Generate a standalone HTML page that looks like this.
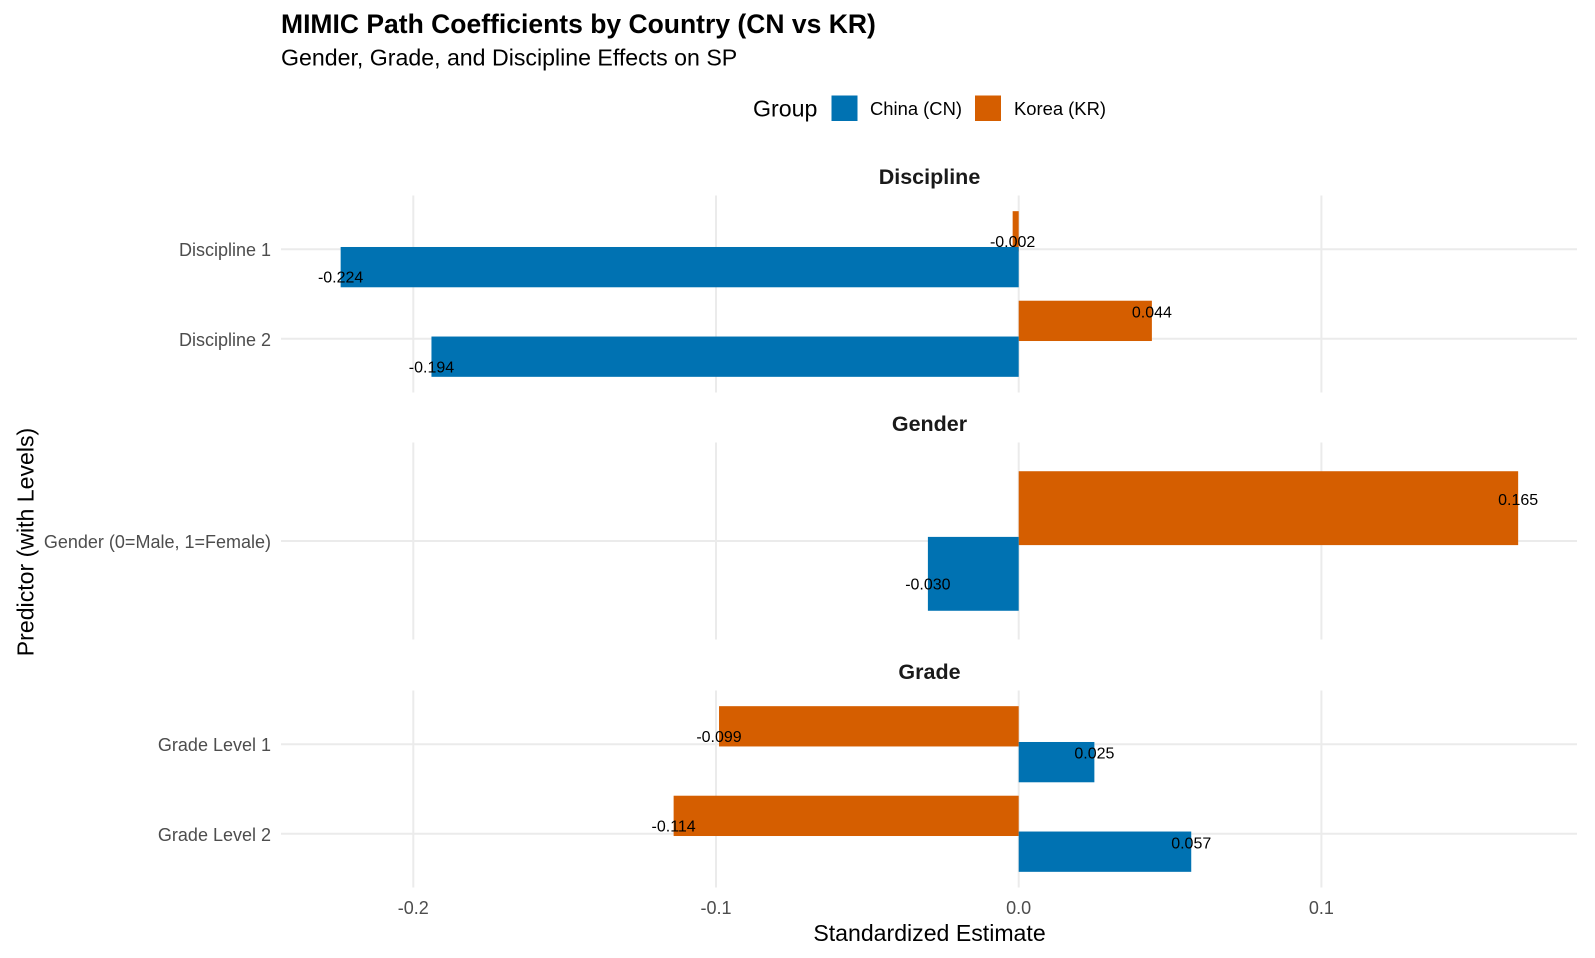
<!DOCTYPE html>
<html lang="en">
<head>
<meta charset="utf-8">
<title>MIMIC Path Coefficients by Country</title>
<style>
html,body{margin:0;padding:0;background:#fff;}
svg{display:block;font-family:"Liberation Sans",Arial,sans-serif;}
</style>
</head>
<body>
<svg id="chart" width="1595" height="958" viewBox="0 0 1595 958" xmlns="http://www.w3.org/2000/svg">
  <text x="281" y="33" font-size="26.5" font-weight="700" fill="#000">MIMIC Path Coefficients by Country (CN vs KR)</text>
  <text x="281" y="65.5" font-size="23.15" fill="#000">Gender, Grade, and Discipline Effects on SP</text>
  <text x="753" y="116.5" font-size="23.2" fill="#000">Group</text>
  <rect x="831.5" y="95.5" width="26" height="25.5" fill="#0072B2"/>
  <text x="870" y="114.8" font-size="18.4" fill="#000">China (CN)</text>
  <rect x="975" y="95.5" width="26" height="25.5" fill="#D55E00"/>
  <text x="1014" y="114.8" font-size="18.4" fill="#000">Korea (KR)</text>
  <text x="0" y="0" transform="translate(33.5 542) rotate(-90)" text-anchor="middle" font-size="23.1" fill="#000">Predictor (with Levels)</text>
  <text x="929.5" y="941" text-anchor="middle" font-size="23.1" fill="#000">Standardized Estimate</text>
  <g id="plot"></g>
</svg>
<script>
const facetNames = ["Discipline", "Gender", "Grade"];
const disciplineLevels = ["Discipline 1", "Discipline 2"];
const genderLevels = ["Gender (0=Male, 1=Female)"];
const gradeLevels = ["Grade Level 1", "Grade Level 2"];
const disciplineChina = [-0.224, -0.194];
const disciplineKorea = [-0.002, 0.044];
const genderChina = [-0.030];
const genderKorea = [0.165];
const gradeChina = [0.025, 0.057];
const gradeKorea = [-0.099, -0.114];
const xTickValues = [-0.2, -0.1, 0.0, 0.1];
const xTickLabels = ["-0.2", "-0.1", "0.0", "0.1"];

const NS = "http://www.w3.org/2000/svg";
const plot = document.getElementById("plot");
const panelLeft = 281, panelRight = 1577, panelHeight = 197;
const panelTops = [195.5, 442.5, 690.5];
const colorChina = "#0072B2", colorKorea = "#D55E00";
const facetLevels = [disciplineLevels, genderLevels, gradeLevels];
const facetChina = [disciplineChina, genderChina, gradeChina];
const facetKorea = [disciplineKorea, genderKorea, gradeKorea];

function xScale(v) { return 1018.7 + v * 3027; }
function bandUnit(n) { return panelHeight / (n - 1 + 1.2); }
function yScale(top, n, pos) { return top + (0.6 + pos) * bandUnit(n); }

function make(tag, attrs, parent) {
  const el = document.createElementNS(NS, tag);
  for (const k in attrs) el.setAttribute(k, attrs[k]);
  parent.appendChild(el);
  return el;
}

function drawBar(g, top, n, pos, offset, value, color, series, level) {
  const unit = bandUnit(n);
  const cy = yScale(top, n, pos + offset);
  const x0 = xScale(0), x1 = xScale(value);
  const bar = make("rect", {
    x: Math.min(x0, x1), y: cy - 0.225 * unit,
    width: Math.abs(x1 - x0), height: 0.45 * unit, fill: color
  }, g);
  
  
  return cy;
}

function drawValue(g, cy, value, series, level) {
  const t = make("text", {
    x: xScale(value), y: cy + (value < 0 ? 10 : -9) + 5.6,
    "text-anchor": "middle", "font-size": 16, fill: "#000"
  }, g);
  t.textContent = value.toFixed(3);
  
  
}

facetNames.forEach(function (name, f) {
  const top = panelTops[f];
  const levels = facetLevels[f];
  const n = levels.length;
  const g = make("g", {}, plot);
  
  

  const strip = make("text", {
    x: 929.5, y: top - 11.5, "text-anchor": "middle",
    "font-size": 21.5, "font-weight": 700, fill: "#1a1a1a"
  }, g);
  strip.textContent = name;
  
  

  xTickValues.forEach(function (v) {
    const line = make("line", {
      x1: xScale(v), x2: xScale(v), y1: top, y2: top + panelHeight,
      stroke: "#ebebeb", "stroke-width": 2
    }, g);
    
    
  });

  levels.forEach(function (level, i) {
    const y = yScale(top, n, i);
    const line = make("line", {
      x1: panelLeft, x2: panelRight, y1: y, y2: y,
      stroke: "#ebebeb", "stroke-width": 2
    }, g);
    
    

    const label = make("text", {
      x: 271, y: y + 7, "text-anchor": "end",
      "font-size": 18, fill: "#4d4d4d"
    }, g);
    label.textContent = level;
    
    
  });

  const labels = [];
  levels.forEach(function (level, i) {
    const slug = level.toLowerCase().replace(/[^a-z0-9]+/g, "-");
    const cyKr = drawBar(g, top, n, i, -0.2, facetKorea[f][i], colorKorea, "korea", slug);
    const cyCn = drawBar(g, top, n, i, 0.2, facetChina[f][i], colorChina, "china", slug);
    labels.push([cyKr, facetKorea[f][i], "korea", slug]);
    labels.push([cyCn, facetChina[f][i], "china", slug]);
  });
  labels.forEach(function (l) { drawValue(g, l[0], l[1], l[2], l[3]); });
});

xTickValues.forEach(function (v, i) {
  const t = make("text", {
    x: xScale(v), y: 914, "text-anchor": "middle",
    "font-size": 18, fill: "#4d4d4d"
  }, plot);
  t.textContent = xTickLabels[i];
  
  
});
</script>
</body>
</html>
